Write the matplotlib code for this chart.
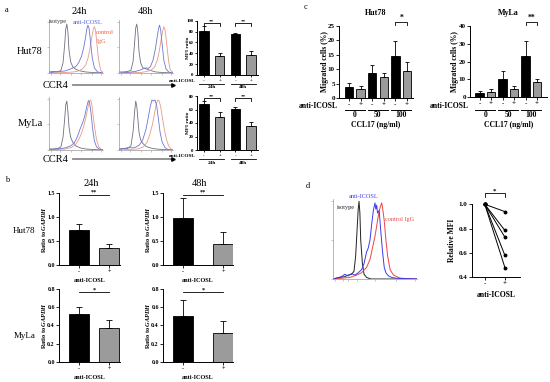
import numpy as np
import matplotlib
matplotlib.use('Agg')
import matplotlib.pyplot as plt
from matplotlib.transforms import blended_transform_factory
from matplotlib.lines import Line2D

plt.rcParams['font.family'] = ['Liberation Serif', 'DejaVu Serif']
plt.rcParams['mathtext.fontset'] = 'custom'
plt.rcParams['mathtext.rm'] = 'Liberation Serif:bold'
plt.rcParams['mathtext.it'] = 'Liberation Serif:italic:bold'
plt.rcParams['mathtext.bf'] = 'Liberation Serif:bold'

# ======================= DATA =======================
# panel a: CCR4 flow histograms (x: log channel 0-100, y: normalised count)
iso_x = [0, 8, 16, 22, 26, 29, 31, 33, 35, 37, 40, 44, 50, 58, 68, 80, 100]
a_hut24_iso_y = [0.02, 0.03, 0.02, 0.05, 0.2, 0.55, 0.85, 0.95, 0.8, 0.45, 0.22, 0.12, 0.07, 0.04, 0.02, 0.01, 0]
a_hut48_iso_y = [0.02, 0.02, 0.03, 0.05, 0.22, 0.6, 0.88, 0.95, 0.78, 0.42, 0.2, 0.1, 0.08, 0.05, 0.02, 0.01, 0]
a_myla24_iso_y = [0.02, 0.02, 0.03, 0.06, 0.25, 0.6, 0.88, 0.95, 0.75, 0.45, 0.25, 0.15, 0.08, 0.04, 0.02, 0.01, 0]
a_myla48_iso_y = [0.02, 0.03, 0.03, 0.08, 0.35, 0.75, 0.95, 0.85, 0.6, 0.35, 0.2, 0.13, 0.07, 0.04, 0.02, 0.01, 0]

a_hut24_blue_x = [0, 10, 20, 30, 38, 45, 50, 55, 60, 64, 67, 70, 72, 74, 77, 80, 84, 90, 100]
a_hut24_blue_y = [0.0, 0.02, 0.03, 0.04, 0.07, 0.1, 0.13, 0.2, 0.32, 0.48, 0.65, 0.85, 0.93, 0.88, 0.6, 0.3, 0.1, 0.02, 0.0]
a_hut24_red_x = [0, 30, 45, 55, 62, 68, 72, 76, 79, 82, 84, 86, 88, 90, 93, 96, 100]
a_hut24_red_y = [0, 0.01, 0.02, 0.04, 0.08, 0.16, 0.28, 0.48, 0.68, 0.85, 0.9, 0.84, 0.65, 0.42, 0.18, 0.05, 0.01]

a_hut48_blue_x = [0, 15, 30, 40, 46, 50, 54, 58, 63, 67, 70, 73, 75, 77, 80, 83, 87, 92, 100]
a_hut48_blue_y = [0, 0.01, 0.03, 0.06, 0.09, 0.1, 0.09, 0.12, 0.25, 0.45, 0.65, 0.85, 0.93, 0.85, 0.55, 0.25, 0.08, 0.02, 0]
a_hut48_red_x = [0, 40, 52, 60, 66, 71, 75, 78, 81, 83, 85, 87, 89, 92, 95, 100]
a_hut48_red_y = [0, 0.01, 0.03, 0.06, 0.12, 0.25, 0.45, 0.65, 0.82, 0.9, 0.85, 0.7, 0.5, 0.22, 0.06, 0.01]

a_myla24_blue_x = [0, 15, 30, 40, 46, 50, 54, 58, 62, 66, 70, 73, 75, 78, 81, 84, 88, 93, 100]
a_myla24_blue_y = [0.01, 0.02, 0.04, 0.08, 0.13, 0.2, 0.3, 0.42, 0.52, 0.65, 0.85, 0.96, 0.93, 0.7, 0.4, 0.18, 0.06, 0.02, 0]
a_myla24_red_x = [0, 30, 42, 50, 55, 60, 64, 68, 72, 75, 77, 79, 82, 85, 88, 92, 96, 100]
a_myla24_red_y = [0, 0.02, 0.05, 0.12, 0.2, 0.32, 0.45, 0.62, 0.82, 0.95, 0.97, 0.9, 0.65, 0.4, 0.2, 0.07, 0.02, 0]

a_myla48_blue_x = [0, 10, 18, 25, 32, 38, 44, 50, 54, 58, 61, 64, 67, 70, 73, 76, 80, 85, 90, 100]
a_myla48_blue_y = [0.01, 0.03, 0.05, 0.04, 0.06, 0.1, 0.2, 0.4, 0.62, 0.85, 0.97, 0.95, 0.97, 0.85, 0.6, 0.35, 0.15, 0.05, 0.01, 0]
a_myla48_red_x = [0, 35, 45, 52, 57, 62, 66, 69, 72, 74, 77, 80, 84, 88, 92, 96, 100]
a_myla48_red_y = [0, 0.02, 0.06, 0.15, 0.3, 0.5, 0.72, 0.9, 0.97, 0.96, 0.85, 0.65, 0.4, 0.2, 0.08, 0.02, 0]

# panel a: MFI ratio bars
a_groups = ['24h', '48h']
a_signs = ['-', '+', '-', '+']
a_hut_mean = [81.6, 35.0, 74.8, 36.2]
a_hut_err = [8.6, 4.9, 3.1, 8.6]
a_myla_mean = [68.1, 49.4, 61.2, 36.0]
a_myla_err = [4.0, 6.4, 3.0, 5.0]
a_sig = ['**', '**']

# panel b: Ratio to GAPDH
b_signs = ['-', '+']
b_hut24_mean = [0.73, 0.36]
b_hut24_err = [0.13, 0.08]
b_hut48_mean = [0.99, 0.44]
b_hut48_err = [0.41, 0.24]
b_myla24_mean = [0.525, 0.374]
b_myla24_err = [0.08, 0.085]
b_myla48_mean = [0.506, 0.32]
b_myla48_err = [0.17, 0.13]
b_sig = ['**', '**', '*', '*']

# panel c: migration
c_signs = ['-', '+', '-', '+', '-', '+']
c_doses = ['0', '50', '100']
c_hut_mean = [3.8, 3.1, 8.6, 7.3, 14.6, 9.4]
c_hut_err = [1.4, 1.2, 2.9, 1.3, 5.3, 3.0]
c_myla_mean = [2.4, 3.2, 10.0, 4.7, 23.3, 8.4]
c_myla_err = [1.2, 1.5, 4.7, 1.6, 8.0, 2.0]
c_sig = ['*', '**']

# panel d: histogram + relative MFI
d_iso_x = [0, 8, 14, 18, 22, 25, 27, 29, 30, 31, 32, 33, 35, 37, 40, 45, 100]
d_iso_y = [0, 0.02, 0.03, 0.05, 0.06, 0.1, 0.3, 0.7, 0.9, 1.0, 0.85, 0.5, 0.2, 0.06, 0.02, 0.0, 0]
d_blue_x = [0, 10, 14, 18, 22, 26, 30, 34, 37, 40, 42, 44, 46, 48, 50, 51, 52, 53, 55, 57, 59, 61, 63, 66, 70, 75, 100]
d_blue_y = [0, 0.03, 0.06, 0.04, 0.07, 0.05, 0.08, 0.12, 0.2, 0.35, 0.4, 0.5, 0.7, 0.88, 0.98, 0.9, 0.95, 0.85, 0.88, 0.6, 0.35, 0.15, 0.08, 0.04, 0.02, 0.01, 0]
d_red_x = [0, 20, 28, 34, 40, 44, 47, 50, 53, 55, 57, 58, 59, 61, 63, 65, 68, 72, 76, 80, 100]
d_red_y = [0, 0.02, 0.05, 0.08, 0.15, 0.25, 0.4, 0.55, 0.75, 0.88, 0.95, 0.98, 0.92, 0.75, 0.5, 0.3, 0.12, 0.05, 0.03, 0.01, 0]
d_signs = ['-', '+']
d_minus = [1.0, 1.0, 1.0, 1.0, 1.0]
d_plus = [0.94, 0.785, 0.73, 0.58, 0.48]

# ======================= FIGURE =======================
W, H = 550, 382
fig = plt.figure(figsize=(W / 100, H / 100), dpi=100)
fig.patch.set_facecolor('white')


def add_ax(l, t, r, b):
    return fig.add_axes([l / W, 1 - b / H, (r - l) / W, (b - t) / H])


def fy(ypx):
    return 1 - ypx / H


def ftext(x, y, s, **kw):
    kw.setdefault('ha', 'center')
    kw.setdefault('va', 'center')
    fig.text(x / W, fy(y), s, **kw)


BLACK = '#000000'
GRAY = '#9b9b9b'


def bar_panel(box, means, errs, xlim, ylim, yticks, yfmt, width, fs, signs, capsize, lw=0.6):
    ax = add_ax(*box)
    x = np.arange(len(means))
    colors = [BLACK if s == '-' else GRAY for s in signs]
    ax.bar(x, means, width, color=colors, edgecolor='black', linewidth=lw, zorder=2)
    ax.errorbar(x, means, yerr=[np.zeros(len(means)), errs], fmt='none', ecolor='black',
                elinewidth=lw, capsize=capsize, capthick=lw, zorder=3)
    ax.set_xlim(*xlim)
    ax.set_ylim(*ylim)
    ax.set_yticks(yticks)
    ax.set_yticklabels([yfmt.format(v) for v in yticks], fontsize=fs, fontweight='bold')
    ax.set_xticks(x)
    ax.set_xticklabels(signs, fontsize=fs, fontweight='bold')
    for s in ['top', 'right']:
        ax.spines[s].set_visible(False)
    for s in ['left', 'bottom']:
        ax.spines[s].set_linewidth(0.7)
    ax.tick_params(direction='out', length=2, width=0.6, pad=1)
    return ax


def bracket(ax, x0, x1, y, drop, text, fs, down=True):
    ys = [y - drop, y, y, y - drop] if down else [y, y, y, y]
    ax.plot([x0, x0, x1, x1], ys, color='black', lw=0.6, clip_on=False)
    ax.text((x0 + x1) / 2, y, text, ha='center', va='bottom', fontsize=fs, fontweight='bold')


def hist_panel(box, curves, lw=0.6, spine_c='#9a9a9a'):
    ax = add_ax(*box)
    for xs, ys, c in curves:
        ax.plot(xs, ys, color=c, lw=lw)
    ax.set_xlim(0, 100)
    ax.set_ylim(0, 1.03)
    for s in ['top', 'right']:
        ax.spines[s].set_visible(False)
    for s in ['left', 'bottom']:
        ax.spines[s].set_color(spine_c)
        ax.spines[s].set_linewidth(0.5)
    ax.set_xticks([4, 20, 40, 60, 80, 97])
    ax.set_yticks([0, 0.5, 1.0])
    ax.tick_params(length=1.5, width=0.4, color=spine_c, labelbottom=False, labelleft=False)
    return ax


# ---------------- panel a ----------------
ftext(7, 10, 'a', fontsize=6)
ftext(79, 12, '24h', fontsize=7.5)
ftext(146, 12, '48h', fontsize=7.5)
ftext(17, 52, 'Hut78', fontsize=7.5, ha='left')
ftext(18, 124, 'MyLa', fontsize=7.5, ha='left')

ISO_A, BLUE_A, RED_A = '#6f6f80', '#6b76d6', '#e89a86'
hist_panel((49, 20, 103, 73), [(iso_x, a_hut24_iso_y, ISO_A), (a_hut24_red_x, a_hut24_red_y, RED_A),
                               (a_hut24_blue_x, a_hut24_blue_y, BLUE_A)])
hist_panel((119, 20, 173, 73), [(iso_x, a_hut48_iso_y, ISO_A), (a_hut48_red_x, a_hut48_red_y, RED_A),
                                (a_hut48_blue_x, a_hut48_blue_y, BLUE_A)])
hist_panel((49, 97, 103, 150), [(iso_x, a_myla24_iso_y, ISO_A), (a_myla24_red_x, a_myla24_red_y, RED_A),
                                (a_myla24_blue_x, a_myla24_blue_y, BLUE_A)])
hist_panel((119, 97, 173, 150), [(iso_x, a_myla48_iso_y, ISO_A), (a_myla48_red_x, a_myla48_red_y, RED_A),
                                 (a_myla48_blue_x, a_myla48_blue_y, BLUE_A)])
ftext(49, 22, 'isotype', fontsize=4.5, ha='left', color='#333333')
ftext(73, 22, 'anti-ICOSL', fontsize=4.5, ha='left', color='#4a5fd8')
ftext(96, 32, 'control', fontsize=4.5, ha='left', color='#e8603c')
ftext(97, 41, 'IgG', fontsize=4.5, ha='left', color='#e8603c')

for yrow in (85, 159):
    ftext(43, yrow, 'CCR4', fontsize=7.5, ha='left')
    fig.add_artist(Line2D([73 / W, 172 / W], [fy(yrow), fy(yrow)], color='#8a8a8a', lw=1.3,
                          transform=fig.transFigure))
    fig.add_artist(Line2D([173 / W], [fy(yrow)], marker='>', markersize=2.5, color='black',
                          transform=fig.transFigure))

for box, means, errs, ylim, yticks, sig_y, rows in [
        ((197, 20.7, 258, 75), a_hut_mean, a_hut_err, (0, 100), [0, 20, 40, 60, 80, 100], 95.5, (81.5, 84, 87.5)),
        ((197, 96, 258, 150), a_myla_mean, a_myla_err, (0, 80), [0, 20, 40, 60, 80], 76.5, (156.5, 159, 162.7))]:
    ax = bar_panel(box, means, errs, (-0.45, 3.45), ylim, yticks, '{:d}', 0.6, 3.5, a_signs, 1.2)
    ax.tick_params(length=1.5)
    ftext(188, (box[1] + box[3]) / 2, 'MFI ratio', fontsize=3.8, rotation=90, fontweight='bold')
    ftext(196, rows[0], 'anti-ICOSL', fontsize=3.8, ha='right', fontweight='bold')
    trans = blended_transform_factory(ax.transData, fig.transFigure)
    for gi, g in enumerate(a_groups):
        x0, x1 = 2 * gi - 0.3, 2 * gi + 1.3
        ax.plot([x0, x1], [fy(rows[1]), fy(rows[1])], color='black', lw=0.6, transform=trans, clip_on=False)
        ax.text((x0 + x1) / 2, fy(rows[2]), g, transform=trans, fontsize=3.8, fontweight='bold',
                ha='center', va='center')
        bracket(ax, 2 * gi, 2 * gi + 1, sig_y, ylim[1] * 0.05, a_sig[gi], 3.8)

# ---------------- panel b ----------------
ftext(7, 180, 'b', fontsize=6)
ftext(91, 183, '24h', fontsize=7.5)
ftext(199, 183, '48h', fontsize=7.5)
ftext(13, 231, 'Hut78', fontsize=6.5, ha='left')
ftext(14, 336, 'MyLa', fontsize=6.5, ha='left')

b_specs = [
    ((59, 193.3, 120, 265), b_hut24_mean, b_hut24_err, (-0.65, 1.35), 0.656, (0, 1.5), [0, 0.5, 1.0, 1.5], 1.47, 44, b_sig[0]),
    ((163, 193.3, 233, 265), b_hut48_mean, b_hut48_err, (-0.5, 1.25), 0.5, (0, 1.5), [0, 0.5, 1.0, 1.5], 1.47, 148, b_sig[1]),
    ((59, 289, 120, 361.7), b_myla24_mean, b_myla24_err, (-0.65, 1.35), 0.656, (0, 0.8), [0, 0.2, 0.4, 0.6, 0.8], 0.762, 44, b_sig[2]),
    ((163, 289, 233, 361.7), b_myla48_mean, b_myla48_err, (-0.5, 1.25), 0.5, (0, 0.8), [0, 0.2, 0.4, 0.6, 0.8], 0.762, 148, b_sig[3]),
]
for box, means, errs, xlim, width, ylim, yticks, sig_y, ylab_x, sig in b_specs:
    ax = bar_panel(box, means, errs, xlim, ylim, yticks, '{:.1f}', width, 4.3, b_signs, 2.2)
    ax.set_xlabel('anti-ICOSL', fontsize=4.5, fontweight='bold', labelpad=3)
    ftext(ylab_x, (box[1] + box[3]) / 2, r'Ratio to $\mathit{GAPDH}$', fontsize=4.5, rotation=90,
          fontweight='bold')
    bracket(ax, 0, 1, sig_y, 0, sig, 4.5, down=False)

# ---------------- panel c ----------------
ftext(305, 7, 'c', fontsize=6)
c_specs = [
    ((339, 25.7, 413, 98.3), c_hut_mean, c_hut_err, (-0.86, 5.52), (0, 25), [0, 5, 10, 15, 20, 25], 'Hut78', 325, 338, c_sig[0]),
    ((470, 25.7, 547, 97.3), c_myla_mean, c_myla_err, (-0.83, 5.87), (0, 40), [0, 10, 20, 30, 40], 'MyLa', 455, 469, c_sig[1]),
]
for box, means, errs, xlim, ylim, yticks, title, ylab_x, anti_x, sig in c_specs:
    ax = bar_panel(box, means, errs, xlim, ylim, yticks, '{:d}', 0.72, 5.0, c_signs, 1.6)
    ax.set_title(title, fontsize=5.8, fontweight='bold', pad=8)
    ftext(ylab_x, (box[1] + box[3]) / 2, 'Migrated cells (%)', fontsize=5.5, rotation=90, fontweight='bold')
    ftext(anti_x, 106, 'anti-ICOSL', fontsize=5.5, ha='right', fontweight='bold')
    trans = blended_transform_factory(ax.transData, fig.transFigure)
    for gi, g in enumerate(c_doses):
        x0, x1 = 2 * gi - 0.36, 2 * gi + 1.36
        ax.plot([x0, x1], [fy(109.5), fy(109.5)], color='black', lw=0.7, transform=trans, clip_on=False)
        ax.text((x0 + x1) / 2, fy(115), g, transform=trans, fontsize=5.5, fontweight='bold',
                ha='center', va='center')
    ax.text(sum(xlim) / 2, fy(125), 'CCL17 (ng/ml)', transform=trans, fontsize=5.5, fontweight='bold',
            ha='center', va='center')
    bracket(ax, 4, 5, ylim[1] * 1.055, ylim[1] * 0.045, sig, 5.5)

# ---------------- panel d ----------------
ftext(308, 186, 'd', fontsize=6)
ax = hist_panel((333, 199, 417, 279), [(d_iso_x, d_iso_y, '#222222'), (d_red_x, d_red_y, '#ee4444'),
                                       (d_blue_x, d_blue_y, '#3b3bef')], lw=0.7)
ax.set_xticks([2, 12, 18, 28, 50, 75, 98])
ftext(364, 197, 'anti-ICOSL', fontsize=4.5, color='#3b3bef')
ftext(337, 208, 'isotype', fontsize=4.5, ha='left', color='#222222')
ftext(385, 219, 'control IgG', fontsize=4.5, ha='left', color='#ee4444')

ax = add_ax(471.7, 204.3, 520, 277.3)
for m, p in zip(d_minus, d_plus):
    ax.plot([0, 1], [m, p], color='black', lw=0.7, marker='o', markersize=1.8, clip_on=False)
ax.set_xlim(-0.65, 1.75)
ax.set_ylim(0.4, 1.0)
ax.set_yticks([0.4, 0.6, 0.8, 1.0])
ax.set_yticklabels(['0.4', '0.6', '0.8', '1.0'], fontsize=5.0, fontweight='bold')
ax.set_xticks([0, 1])
ax.set_xticklabels(d_signs, fontsize=5.0, fontweight='bold')
for s in ['top', 'right']:
    ax.spines[s].set_visible(False)
for s in ['left', 'bottom']:
    ax.spines[s].set_linewidth(0.7)
ax.tick_params(direction='out', length=2, width=0.6, pad=1)
ax.set_xlabel('anti-ICOSL', fontsize=5.5, fontweight='bold', labelpad=3)
ftext(452, 240, 'Relative MFI', fontsize=5.5, rotation=90, fontweight='bold')
bracket(ax, 0, 1, 1.09, 0.03, '*', 5.0)

fig.savefig('out.png', dpi=100, facecolor='white')
